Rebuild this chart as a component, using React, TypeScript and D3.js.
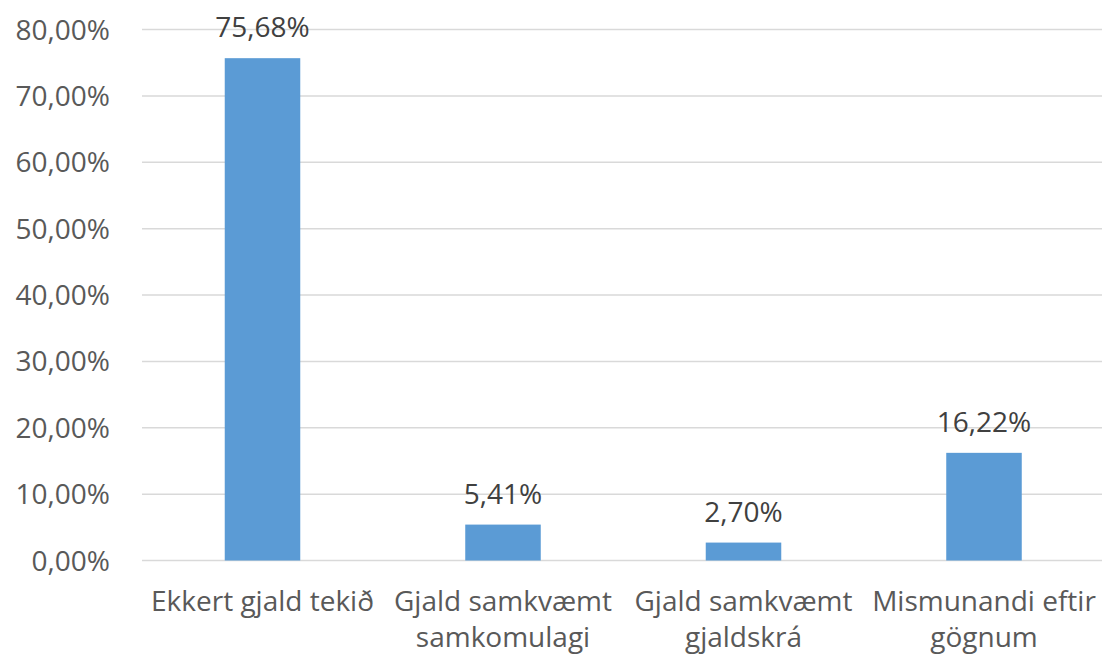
import React from "react";
import * as d3 from "d3";

const categories = [
  ["Ekkert gjald tekið"],
  ["Gjald samkvæmt", "samkomulagi"],
  ["Gjald samkvæmt", "gjaldskrá"],
  ["Mismunandi eftir", "gögnum"],
];
const values = [0.7568, 0.0541, 0.027, 0.1622];
const ticks = [0, 0.1, 0.2, 0.3, 0.4, 0.5, 0.6, 0.7, 0.8];

const W = 1102;
const H = 658;
const FONT = "'Open Sans', sans-serif";
const FS = 28;
const fmt = (v: number) => (v * 100).toFixed(2).replace(".", ",") + "%";

export default function App() {
  const x = d3
    .scaleBand<number>()
    .domain(values.map((_, i) => i))
    .range([142.25, 1104.25])
    .paddingInner(0.686)
    .paddingOuter(0.343);
  const y = d3.scaleLinear().domain([0, 0.8]).range([560.5, 29.5]);

  return (
    <svg
      width={W}
      height={H}
      style={{ position: "absolute", left: 0, top: 0, background: "#fff" }}
      fontFamily={FONT}
    >
      <rect width={W} height={H} fill="#fff" />
      {ticks.map((t) => (
        <g key={t}>
          <line x1={142} x2={W} y1={y(t)} y2={y(t)} stroke="#d9d9d9" strokeWidth={1.5} />
          <text x={110} y={y(t)} dy="0.36em" textAnchor="end" fontSize={FS} fill="#595959">
            {fmt(t)}
          </text>
        </g>
      ))}
      {values.map((v, i) => (
        <g key={i}>
          <rect x={x(i)} y={y(v)} width={x.bandwidth()} height={y(0) - y(v)} fill="#5b9bd5" />
          <text
            x={(x(i) as number) + x.bandwidth() / 2}
            y={y(v) - 21}
            textAnchor="middle"
            fontSize={FS}
            fill="#404040"
          >
            {fmt(v)}
          </text>
        </g>
      ))}
      {categories.map((lines, i) => (
        <text
          key={i}
          x={(x(i) as number) + x.bandwidth() / 2}
          textAnchor="middle"
          fontSize={FS}
          fill="#595959"
        >
          {lines.map((l, j) => (
            <tspan key={j} x={(x(i) as number) + x.bandwidth() / 2} y={611 + j * 36}>
              {l}
            </tspan>
          ))}
        </text>
      ))}
    </svg>
  );
}
